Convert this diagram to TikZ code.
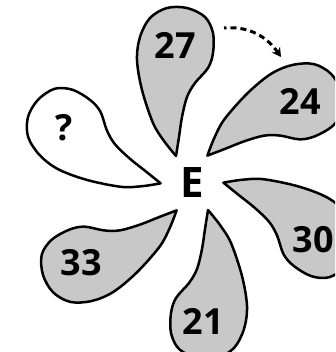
\documentclass[tikz,border=0pt]{standalone}
\usepackage{fontspec}
\setmainfont{Open Sans}
\usetikzlibrary{arrows.meta}
\definecolor{petalgray}{HTML}{C8C8C8}
\tikzset{
  petal/.style={draw=black, line width=2.5pt, line join=round},
  lbl/.style={font=\fontsize{36}{36}\selectfont\bfseries, inner sep=0pt},
  centre/.style={font=\fontsize{42}{42}\selectfont\bfseries, inner sep=0pt},
  turn/.style={line width=3pt, dash pattern=on 2.5pt off 4pt on 6pt off 4pt on 6pt off 4pt on 6pt off 4pt on 6pt off 4pt on 6pt off 4pt on 40pt off 0pt, -{Stealth[length=9pt,width=10pt]}}
}
\newcommand{\petalpath}{plot[smooth, tension=0.55] coordinates {(-16,27) (-28,42) (-39,60) (-50,93) (-55,123) (-52,146) (-42,165) (-25,175) (-5,175) (13,166) (21,150) (21,130) (16,115) (3,100) (-5,86) (-10,66) (-13,46) (-16,27)} -- cycle}
\begin{document}
\begin{tikzpicture}[x=1pt,y=1pt]
\useasboundingbox (0,0) rectangle (335,352);
\clip (0,0) rectangle (335,352);
\foreach \ang/\col in {0/petalgray, -60/petalgray, -120/petalgray, -180/petalgray, -240/petalgray, -300/white}{
  \begin{scope}[shift={(192,169)}, rotate=\ang]
    \fill[\col] \petalpath;
    \draw[petal] \petalpath;
  \end{scope}
}
\node[centre] (E) at (192.5,169) {E};
\node[lbl] (n27) at (175,307) {27};
\node[lbl] (n24) at (300,251) {24};
\node[lbl] (n30) at (313,112) {30};
\node[lbl] (n21) at (203,31) {21};
\node[lbl] (n33) at (81,89) {33};
\node[lbl] (nq) at (64,224) {?};
\coordinate (a1) at (224,324);
\coordinate (a2) at (281,295);
\draw[turn] (a1) to[out=5, in=125] (a2);
\end{tikzpicture}
\end{document}
